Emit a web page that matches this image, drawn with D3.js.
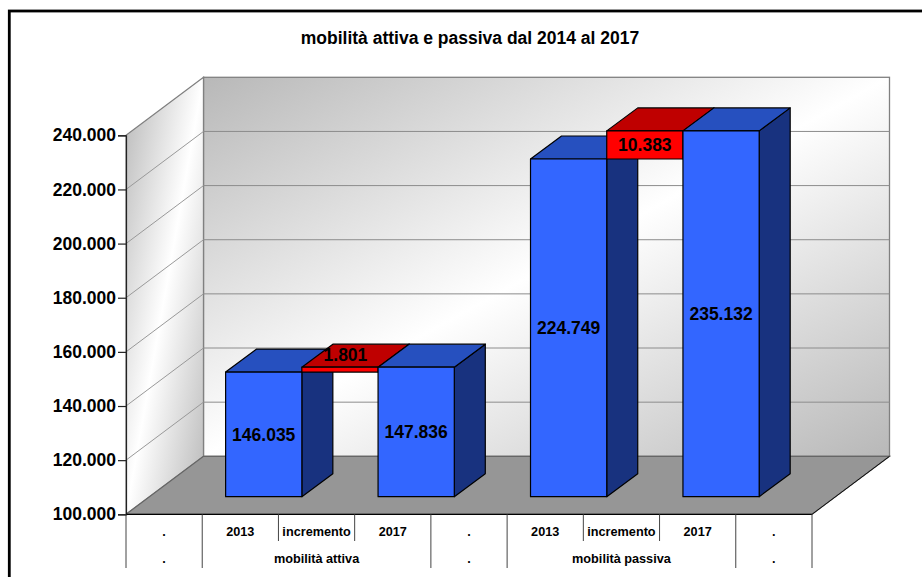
<!DOCTYPE html>
<html>
<head>
<meta charset="utf-8">
<script src="https://cdn.jsdelivr.net/npm/d3@7"></script>
<style>
  body { margin: 0; background: #fff; }
  text { font-family: "Liberation Sans", Arial, sans-serif; font-weight: bold; fill: #000; }
</style>
</head>
<body>
<div id="chart"></div>
<script>
var title = 'mobilità attiva e passiva dal 2014 al 2017'

var categories = ['.', '2013', 'incremento', '2017', '.', '2013', 'incremento', '2017', '.']
var groupLabels = ['.', 'mobilità attiva', '.', 'mobilità passiva', '.']
var groupSpans = [1, 3, 1, 3, 1]

var tickValues = [100000, 120000, 140000, 160000, 180000, 200000, 220000, 240000]

var totals = [null, 146035, null, 147836, null, 224749, null, 235132, null]
var incrementBase = [null, null, 146035, null, null, null, 224749, null, null]
var increments = [null, null, 1801, null, null, null, 10383, null, null]

// the 1.801 label was moved by hand in the original, it does not fit its box
var labelNudgeX = [0, 0, 5.5, 0, 0, 0, 0, 0, 0]
var labelNudgeY = [0, 0, -14.5, 0, 0, 0, 0, 0, 0]

var width = 922
var height = 577

// depth of the 3d box, and where the bars sit inside it
var depthX = 77.5
var depthY = 58
var barInsetX = 23.4
var barInsetY = 17.6
var barDepthX = 31
var barDepthY = 23

var x = d3.scaleBand().domain(d3.range(categories.length)).range([126, 812])
var y = d3.scaleLinear().domain([100000, 240000]).range([514.3, 135.3])

var itLocale = d3.formatLocale({decimal: ',', thousands: '.', grouping: [3], currency: ['', '']})
var fmt = itLocale.format(',d')

var svg = d3.select('#chart')
  .append('svg')
  .attr('width', width)
  .attr('height', height)
  .style('display', 'block')

var grad = svg.append('defs')
  .append('linearGradient')
  .attr('id', 'wall')
  .attr('x1', 0).attr('y1', 0)
  .attr('x2', 1).attr('y2', 1)
grad.append('stop').attr('offset', 0).attr('stop-color', '#b8b8b8')
grad.append('stop').attr('offset', 0.5).attr('stop-color', '#ffffff')
grad.append('stop').attr('offset', 1).attr('stop-color', '#b8b8b8')

// outer frame runs off the right and bottom of the picture
svg.append('rect')
  .attr('x', 9.3)
  .attr('y', 11)
  .attr('width', width + 20)
  .attr('height', height + 20)
  .attr('fill', 'none')
  .attr('stroke', '#000')
  .attr('stroke-width', 2.8)

svg.append('text')
  .attr('x', 470)
  .attr('y', 44)
  .attr('text-anchor', 'middle')
  .style('font-size', '17.5px')
  .text(title)

var x0 = x.range()[0]
var x1 = x.range()[1]
var yBottom = y(tickValues[0])
var yTop = y(tickValues[tickValues.length - 1])

function pts(list) {
  return list.map(p => p.join(',')).join(' ')
}

// back wall
svg.append('rect')
  .attr('x', x0 + depthX)
  .attr('y', yTop - depthY)
  .attr('width', x1 - x0)
  .attr('height', yBottom - yTop)
  .attr('fill', 'url(#wall)')
  .attr('stroke', '#808080')
  .attr('stroke-width', 1.3)

// side wall
svg.append('polygon')
  .attr('points', pts([[x0, yBottom], [x0, yTop], [x0 + depthX, yTop - depthY], [x0 + depthX, yBottom - depthY]]))
  .attr('fill', 'url(#wall)')
  .attr('stroke', '#808080')
  .attr('stroke-width', 1.3)

// floor
svg.append('polygon')
  .attr('points', pts([[x0, yBottom], [x1, yBottom], [x1 + depthX, yBottom - depthY], [x0 + depthX, yBottom - depthY]]))
  .attr('fill', '#969696')
  .attr('stroke', '#666')
  .attr('stroke-width', 1.2)

svg.append('line')
  .attr('x1', x1).attr('y1', yBottom)
  .attr('x2', x1 + depthX).attr('y2', yBottom - depthY)
  .attr('stroke', '#111')
  .attr('stroke-width', 1)

// grid lines, on the side wall and along the back wall
var grid = svg.append('g')
  .selectAll('g')
  .data(tickValues.slice(1, -1))
  .enter()
  .append('g')

grid.append('line')
  .attr('x1', x0)
  .attr('y1', d => y(d))
  .attr('x2', x0 + depthX)
  .attr('y2', d => y(d) - depthY)
  .attr('stroke', '#999')
  .attr('stroke-width', 1)

grid.append('line')
  .attr('x1', x0 + depthX)
  .attr('y1', d => y(d) - depthY)
  .attr('x2', x1 + depthX)
  .attr('y2', d => y(d) - depthY)
  .attr('stroke', '#8c8c8c')
  .attr('stroke-width', 1)

// one box: front, top, side
function box(g, i, low, high, front, top, side) {
  var left = x(i) + barInsetX
  var right = left + x.bandwidth()
  var yLow = y(low) - barInsetY
  var yHigh = y(high) - barInsetY
  var shapes = [
    {fill: side, p: [[right, yHigh], [right + barDepthX, yHigh - barDepthY], [right + barDepthX, yLow - barDepthY], [right, yLow]]},
    {fill: top, p: [[left, yHigh], [left + barDepthX, yHigh - barDepthY], [right + barDepthX, yHigh - barDepthY], [right, yHigh]]},
    {fill: front, p: [[left, yHigh], [right, yHigh], [right, yLow], [left, yLow]]}
  ]
  g.selectAll('polygon')
    .data(shapes)
    .enter()
    .append('polygon')
    .attr('points', d => pts(d.p))
    .attr('fill', d => d.fill)
    .attr('stroke', '#000')
    .attr('stroke-width', 1.2)
    .attr('stroke-linejoin', 'round')
}

var bars = svg.append('g')
categories.forEach(function(c, i) {
  var g = bars.append('g')
  if (totals[i] != null) {
    box(g, i, tickValues[0], totals[i], '#3366ff', '#2650bf', '#18327f')
  }
  if (increments[i] != null) {
    box(g, i, incrementBase[i], incrementBase[i] + increments[i], '#ff0000', '#bf0000', '#7f0000')
  }
})

// value labels go on top of all the boxes
var labels = d3.range(categories.length)
  .filter(i => totals[i] != null || increments[i] != null)
  .map(function(i) {
    var low = totals[i] != null ? tickValues[0] : incrementBase[i]
    var high = totals[i] != null ? totals[i] : incrementBase[i] + increments[i]
    return {i: i, low: low, high: high, value: totals[i] != null ? totals[i] : increments[i]}
  })

svg.append('g')
  .selectAll('text')
  .data(labels)
  .enter()
  .append('text')
  .attr('x', d => x(d.i) + barInsetX + x.bandwidth() / 2 + labelNudgeX[d.i])
  .attr('y', d => (y(d.low) + y(d.high)) / 2 - barInsetY + labelNudgeY[d.i] + 6.2)
  .attr('text-anchor', 'middle')
  .style('font-size', '17.5px')
  .text(d => fmt(d.value))

// value axis
var yAxis = d3.axisLeft(y)
  .tickValues(tickValues)
  .tickFormat(fmt)
  .tickSize(8)
  .tickPadding(2)

var axisG = svg.append('g')
  .attr('transform', 'translate(' + x0 + ',0)')
  .call(yAxis)

axisG.selectAll('.domain').attr('stroke', '#222').attr('stroke-width', 1.2)
axisG.selectAll('line').attr('stroke', '#222').attr('stroke-width', 1.2)
axisG.selectAll('text')
  .style('font-size', '17.5px')
  .style('font-family', '"Liberation Sans", Arial, sans-serif')
  .attr('fill', '#000')

// two-row category table under the floor
svg.append('line')
  .attr('x1', x0).attr('y1', yBottom)
  .attr('x2', x1).attr('y2', yBottom)
  .attr('stroke', '#000')
  .attr('stroke-width', 1.3)

var bw = x.bandwidth()
var groupEdges = []
var acc = 0
groupSpans.forEach(function(s, i) {
  groupEdges.push({label: groupLabels[i], start: acc, span: s})
  acc += s
})
var longEdges = d3.cumsum(groupSpans)

svg.append('g')
  .selectAll('line')
  .data(d3.range(categories.length + 1))
  .enter()
  .append('line')
  .attr('x1', d => x0 + d * bw)
  .attr('x2', d => x0 + d * bw)
  .attr('y1', yBottom)
  .attr('y2', d => (d === 0 || longEdges.includes(d)) ? 568 : 541)
  .attr('stroke', '#444')
  .attr('stroke-width', 1)

svg.append('g')
  .selectAll('text')
  .data(categories)
  .enter()
  .append('text')
  .attr('x', (d, i) => x(i) + bw / 2)
  .attr('y', 536)
  .attr('text-anchor', 'middle')
  .style('font-size', '12.7px')
  .text(d => d)

svg.append('g')
  .selectAll('text')
  .data(groupEdges)
  .enter()
  .append('text')
  .attr('x', d => x0 + (d.start + d.span / 2) * bw)
  .attr('y', 563)
  .attr('text-anchor', 'middle')
  .style('font-size', '12.7px')
  .text(d => d.label)
</script>
</body>
</html>
